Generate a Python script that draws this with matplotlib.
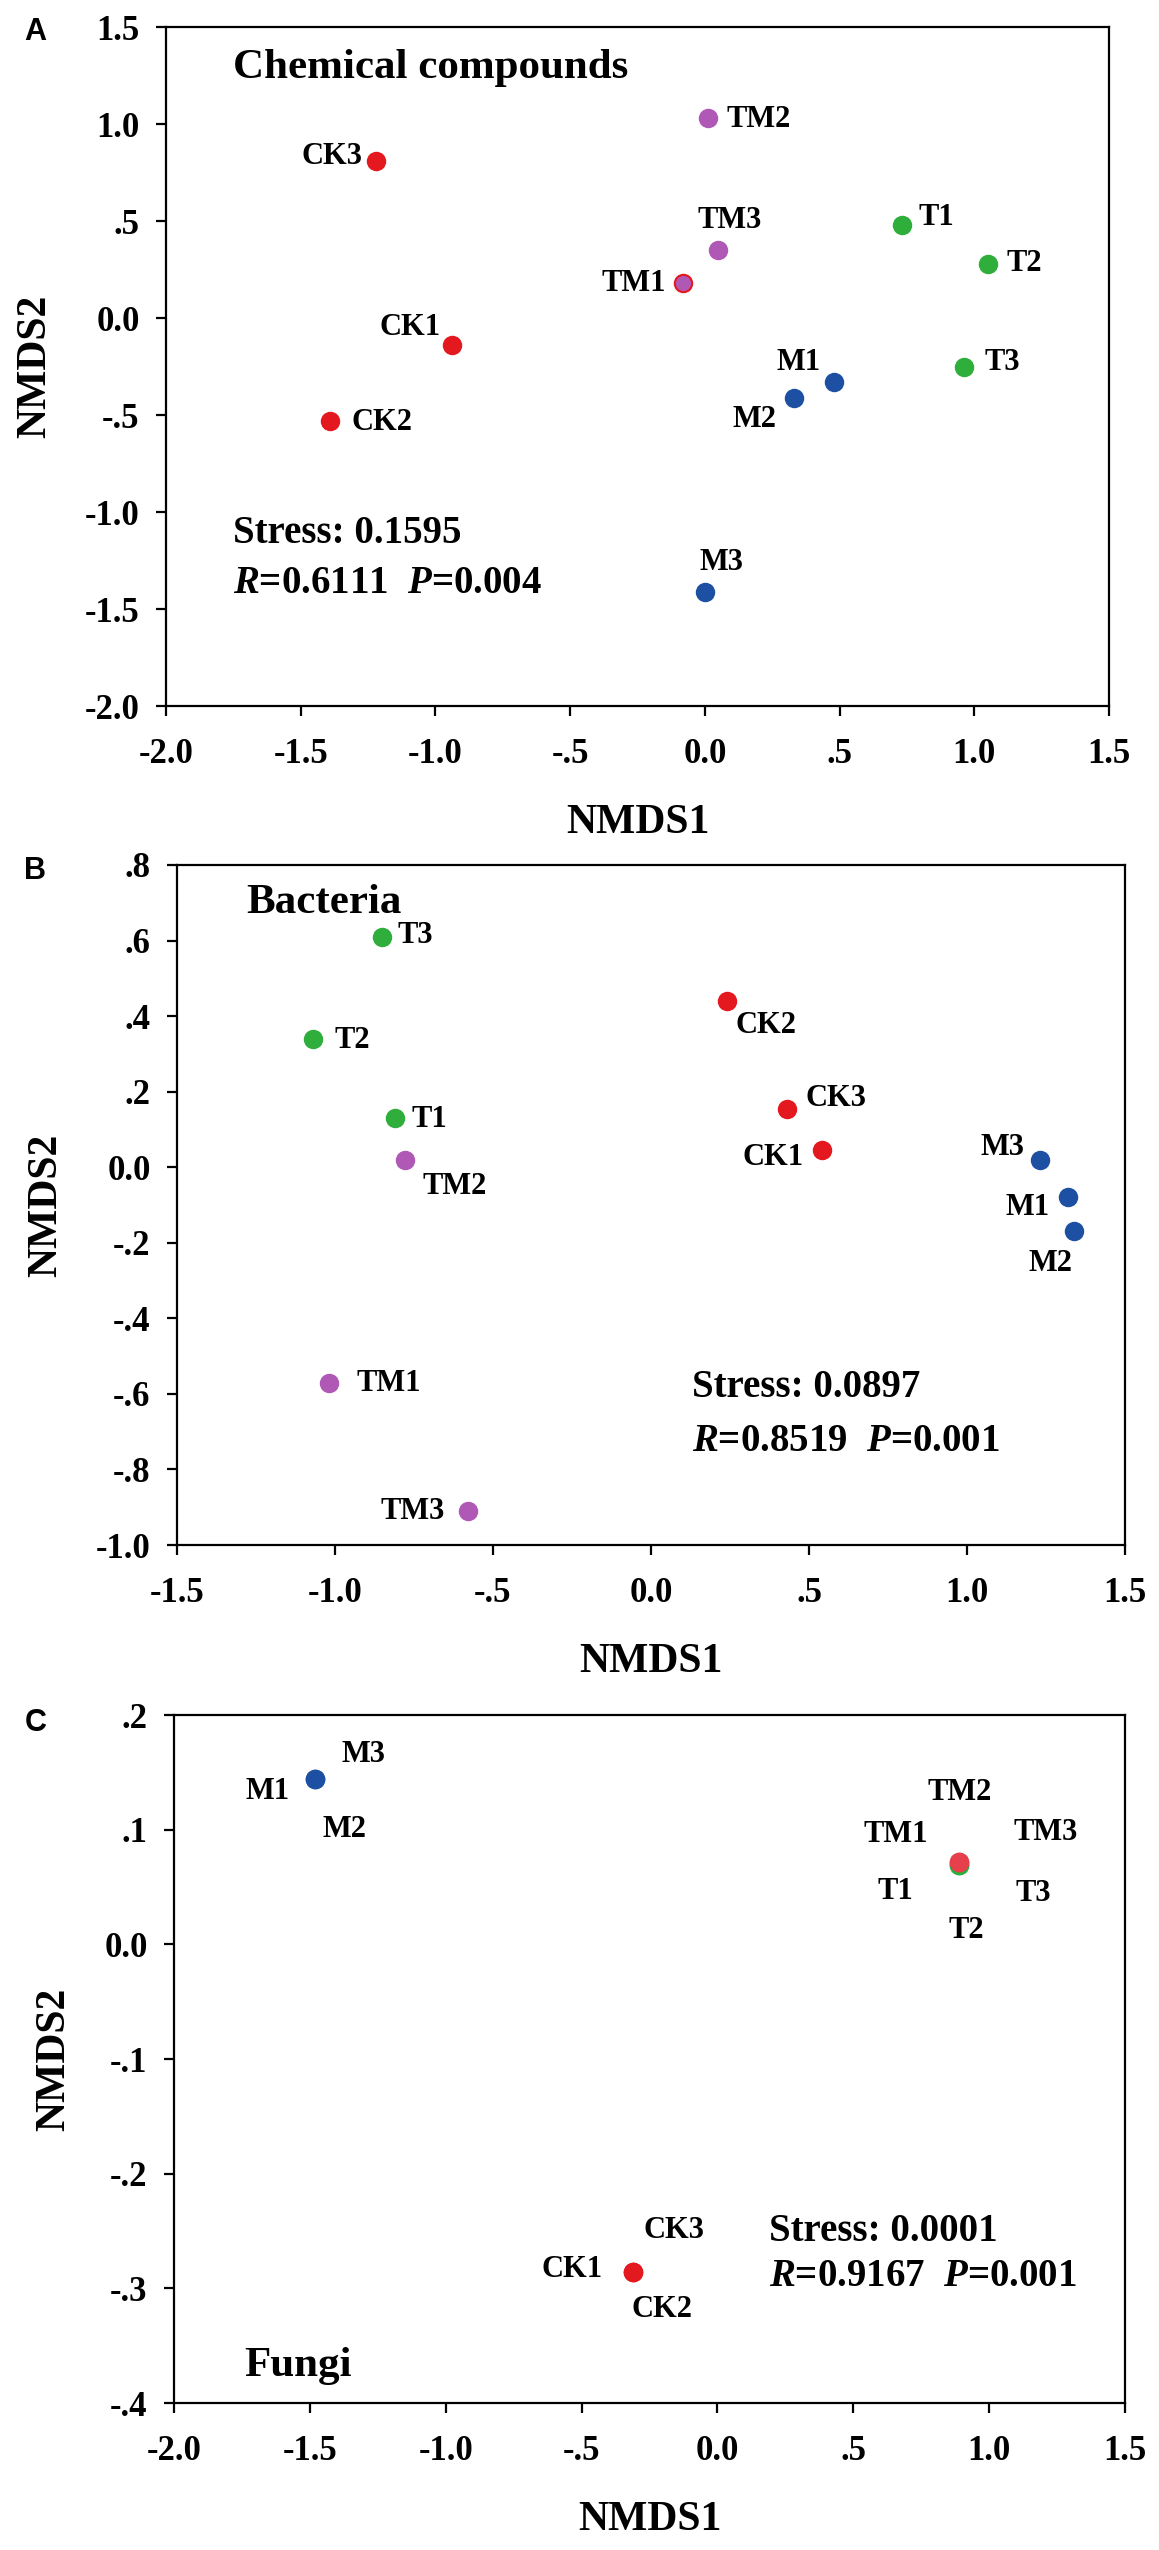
import matplotlib
matplotlib.use("Agg")
import matplotlib.pyplot as plt

plt.rcParams['font.family'] = ['Liberation Serif', 'DejaVu Serif']
plt.rcParams['font.weight'] = 'bold'
plt.rcParams['mathtext.fontset'] = 'custom'
plt.rcParams['mathtext.rm'] = 'Liberation Serif:bold'
plt.rcParams['mathtext.bf'] = 'Liberation Serif:bold'
plt.rcParams['mathtext.it'] = 'Liberation Serif:italic:bold'
plt.rcParams['mathtext.bfit'] = 'Liberation Serif:italic:bold'

RED = '#E3191F'
PURPLE = '#B058B5'
GREEN = '#2FAE3C'
BLUE = '#1D4FA3'

# ---- panel A: chemical compounds ----
a_names = ['CK1', 'CK2', 'CK3', 'TM1', 'TM2', 'TM3', 'T1', 'T2', 'T3', 'M1', 'M2', 'M3']
a_x = [-0.94, -1.39, -1.22, -0.08, 0.01, 0.05, 0.73, 1.05, 0.96, 0.48, 0.33, 0.00]
a_y = [-0.14, -0.53, 0.81, 0.18, 1.03, 0.35, 0.48, 0.28, -0.25, -0.33, -0.41, -1.41]
a_xticks = ['-2.0', '-1.5', '-1.0', '-.5', '0.0', '.5', '1.0', '1.5']
a_yticks = ['-2.0', '-1.5', '-1.0', '-.5', '0.0', '.5', '1.0', '1.5']

# ---- panel B: bacteria ----
b_names = ['CK1', 'CK2', 'CK3', 'TM1', 'TM2', 'TM3', 'T1', 'T2', 'T3', 'M1', 'M2', 'M3']
b_x = [0.54, 0.24, 0.43, -1.02, -0.78, -0.58, -0.81, -1.07, -0.85, 1.32, 1.34, 1.23]
b_y = [0.045, 0.44, 0.155, -0.57, 0.02, -0.91, 0.13, 0.34, 0.61, -0.08, -0.17, 0.02]
b_xticks = ['-1.5', '-1.0', '-.5', '0.0', '.5', '1.0', '1.5']
b_yticks = ['-1.0', '-.8', '-.6', '-.4', '-.2', '0.0', '.2', '.4', '.6', '.8']

# ---- panel C: fungi ----
c_names = ['T1', 'T2', 'T3', 'TM1', 'TM2', 'TM3', 'CK1', 'CK2', 'CK3', 'M1', 'M2', 'M3']
c_x = [0.89, 0.89, 0.89, 0.89, 0.89, 0.89, -0.31, -0.31, -0.31, -1.48, -1.48, -1.48]
c_y = [0.069, 0.069, 0.069, 0.072, 0.072, 0.072, -0.286, -0.286, -0.286, 0.144, 0.144, 0.144]
c_xticks = ['-2.0', '-1.5', '-1.0', '-.5', '0.0', '.5', '1.0', '1.5']
c_yticks = ['-.4', '-.3', '-.2', '-.1', '0.0', '.1', '.2']

group_colors = {'CK': RED, 'TM': PURPLE, 'T': GREEN, 'M': BLUE}

# label offsets (points) for each sample label
a_off = {'CK1': (-30, 13), 'CK2': (37, -1), 'CK3': (-32, 3), 'TM1': (-36, 0), 'TM2': (37, -1),
         'TM3': (8, 21), 'T1': (25, 5), 'T2': (26, 0), 'T3': (28, 3), 'M1': (-26, 14),
         'M2': (-28, -16), 'M3': (12, 21)}
b_off = {'CK1': (-35, -5), 'CK2': (28, -18), 'CK3': (35, 7), 'TM1': (43, -1), 'TM2': (36, -19),
         'TM3': (-40, 0), 'T1': (25, -1), 'T2': (28, -1), 'T3': (24, 1), 'M1': (-29, -7),
         'M2': (-17, -23), 'M3': (-27, 9)}
c_off = {'CK1': (-44, 2), 'CK2': (21, -27), 'CK3': (29, 30), 'TM1': (-46, 20), 'TM2': (0, 50),
         'TM3': (62, 21), 'T1': (-46, -19), 'T2': (5, -47), 'T3': (53, -20), 'M1': (-34, -9),
         'M2': (21, -36), 'M3': (35, 18)}


def group(name):
    return name.rstrip('0123456789')


def draw(ax, names, xs, ys, offs, xt, yt, colors=None, edges=None):
    colors = colors or {}
    edges = edges or {}
    for n, x, y in zip(names, xs, ys):
        fc = colors.get(n, group_colors[group(n)])
        ec = edges.get(n, fc)
        ax.plot(x, y, 'o', ms=12.5, mfc=fc, mec=ec, mew=1.5, zorder=3)
        ax.annotate(n, (x, y), xytext=offs[n], textcoords='offset points',
                    ha='center', va='center', fontsize=22, fontweight='bold')
    xv = [float(t) for t in xt]
    yv = [float(t) for t in yt]
    ax.set_xlim(xv[0], xv[-1])
    ax.set_ylim(yv[0], yv[-1])
    ax.set_xticks(xv)
    ax.set_xticklabels(xt)
    ax.set_yticks(yv)
    ax.set_yticklabels(yt)
    ax.tick_params(direction='out', length=7, width=1.6, labelsize=25)
    ax.tick_params(axis='x', pad=16)
    ax.tick_params(axis='y', pad=12)
    for s in ax.spines.values():
        s.set_linewidth(1.6)
    ax.set_xlabel('NMDS1', fontsize=30, fontweight='bold', labelpad=24)
    ax.set_ylabel('NMDS2', fontsize=30, fontweight='bold', labelpad=22)


fig = plt.figure(figsize=(11.59, 25.5), dpi=100)
axA = fig.add_axes([0.1432, 0.7231, 0.8137, 0.2663])
axB = fig.add_axes([0.1527, 0.3941, 0.8180, 0.2667])
axC = fig.add_axes([0.1501, 0.0576, 0.8206, 0.2698])

draw(axA, a_names, a_x, a_y, a_off, a_xticks, a_yticks, edges={'TM1': RED})
draw(axB, b_names, b_x, b_y, b_off, b_xticks, b_yticks)
draw(axC, c_names, c_x, c_y, c_off, c_xticks, c_yticks,
     colors={'TM1': '#E5404C', 'TM2': '#E5404C', 'TM3': '#E5404C'})

axA.text(-1.75, 1.29, 'Chemical compounds', fontsize=31, fontweight='bold', va='center')
axA.text(-1.75, -1.11, 'Stress: 0.1595', fontsize=28, fontweight='bold', va='center')
axA.text(-1.75, -1.37, r'$\mathit{R}$=0.6111  $\mathit{P}$=0.004', fontsize=28, fontweight='bold', va='center')

axB.text(-1.28, 0.70, 'Bacteria', fontsize=31, fontweight='bold', va='center')
axB.text(0.13, -0.582, 'Stress: 0.0897', fontsize=28, fontweight='bold', va='center')
axB.text(0.13, -0.725, r'$\mathit{R}$=0.8519  $\mathit{P}$=0.001', fontsize=28, fontweight='bold', va='center')

axC.text(-1.74, -0.368, 'Fungi', fontsize=31, fontweight='bold', va='center')
axC.text(0.19, -0.250, 'Stress: 0.0001', fontsize=28, fontweight='bold', va='center')
axC.text(0.19, -0.290, r'$\mathit{R}$=0.9167  $\mathit{P}$=0.001', fontsize=28, fontweight='bold', va='center')

for lab, y in [('A', 0.9875), ('B', 0.6585), ('C', 0.3245)]:
    fig.text(0.021, y, lab, fontsize=22, fontweight='bold', family='Liberation Sans', va='center')

fig.savefig('out.png', dpi=100)
